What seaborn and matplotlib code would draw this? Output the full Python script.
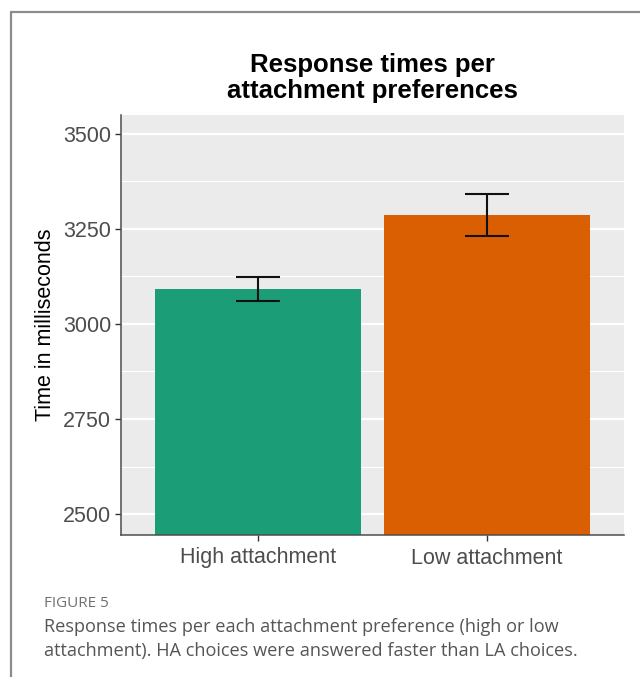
import matplotlib
matplotlib.use("Agg")
import matplotlib.pyplot as plt
from matplotlib.lines import Line2D
from matplotlib.ticker import MultipleLocator
import seaborn as sns
import pandas as pd

# Mean response time per attachment preference, with error-bar bounds (ms)
categories = ["High attachment", "Low attachment"]
mean_rt = [3091, 3285]
err_low = [3060, 3230]
err_high = [3124, 3342]
bar_colors = ["#1B9E77", "#D95F02"]
y_ticks = [2500, 2750, 3000, 3250, 3500]

title_lines = ["Response times per", "attachment preferences"]
y_title = "Time in milliseconds"
caption_head = "FIGURE 5"
caption_lines = [
    "Response times per each attachment preference (high or low",
    "attachment). HA choices were answered faster than LA choices.",
]

df = pd.DataFrame({"preference": categories, "rt": mean_rt})

sns.set_theme(style="white")
plt.rcParams["font.family"] = ["Liberation Sans", "DejaVu Sans"]

W, H = 640, 677
fig = plt.figure(figsize=(W / 100, H / 100), dpi=100)
fig.patch.set_facecolor("white")

left, right, top, bottom = 121, 624, 115, 535
ax = fig.add_axes([left / W, 1 - bottom / H, (right - left) / W, (bottom - top) / H])
ax.set_facecolor("#EBEBEB")

# grid (ggplot-like)
ax.set_axisbelow(True)
ax.yaxis.set_minor_locator(MultipleLocator(125))
ax.grid(which="major", axis="both", color="white", linewidth=1.6)
ax.grid(which="minor", axis="y", color="white", linewidth=0.8)

sns.barplot(data=df, x="preference", y="rt", hue="preference",
            palette=bar_colors, width=0.9, saturation=1, errorbar=None,
            legend=False, ax=ax, zorder=2)
for p in ax.patches:
    p.set_linewidth(0)

xs = list(range(len(categories)))
yerr = [[m - lo for m, lo in zip(mean_rt, err_low)],
        [hi - m for m, hi in zip(mean_rt, err_high)]]
ax.errorbar(xs, mean_rt, yerr=yerr, fmt="none", ecolor="#111111",
            elinewidth=1.5, capsize=16, capthick=1.5, zorder=3)

ax.set_xlim(-0.6, 1.6)
ax.set_ylim(2445, 3549)
ax.set_yticks(y_ticks)
ax.set_yticklabels([str(t) for t in y_ticks])
ax.yaxis.set_tick_params(which="minor", length=0)

for side in ["top", "right"]:
    ax.spines[side].set_visible(False)
for side in ["left", "bottom"]:
    ax.spines[side].set_color("#4D4D4D")
    ax.spines[side].set_linewidth(1.1)

ax.tick_params(axis="both", which="major", left=True, bottom=True,
               length=4, width=1.0, color="#333333",
               labelsize=15.5, labelcolor="#4D4D4D", pad=3, direction="out")
ax.tick_params(axis="x", pad=5)
ax.set_xlabel("")
ax.set_ylabel(y_title, fontsize=15.5, color="black", labelpad=5)

# title over the panel
cx = (left + right) / 2 / W
fig.text(cx, 1 - 72 / H, title_lines[0], ha="center", va="baseline",
         fontsize=18.5, fontweight="bold", color="black")
fig.text(cx, 1 - 98 / H, title_lines[1], ha="center", va="baseline",
         fontsize=18.5, fontweight="bold", color="black")

# card border (left and top edges)
fig.add_artist(Line2D([11 / W, 11 / W], [0, 1 - 12 / H], transform=fig.transFigure,
                      color="#8C8C8C", linewidth=1.6))
fig.add_artist(Line2D([11 / W, 1], [1 - 12 / H, 1 - 12 / H], transform=fig.transFigure,
                      color="#8C8C8C", linewidth=1.6))

# caption
fig.text(44 / W, 1 - 607 / H, caption_head, ha="left", va="baseline",
         fontsize=11, color="#707070", family=["Open Sans", "DejaVu Sans"])
fig.text(44 / W, 1 - 632 / H, caption_lines[0], ha="left", va="baseline",
         fontsize=13.1, color="#555555", family=["Open Sans", "DejaVu Sans"])
fig.text(44 / W, 1 - 656 / H, caption_lines[1], ha="left", va="baseline",
         fontsize=13.1, color="#555555", family=["Open Sans", "DejaVu Sans"])

fig.savefig("out.png", dpi=100, facecolor="white")
